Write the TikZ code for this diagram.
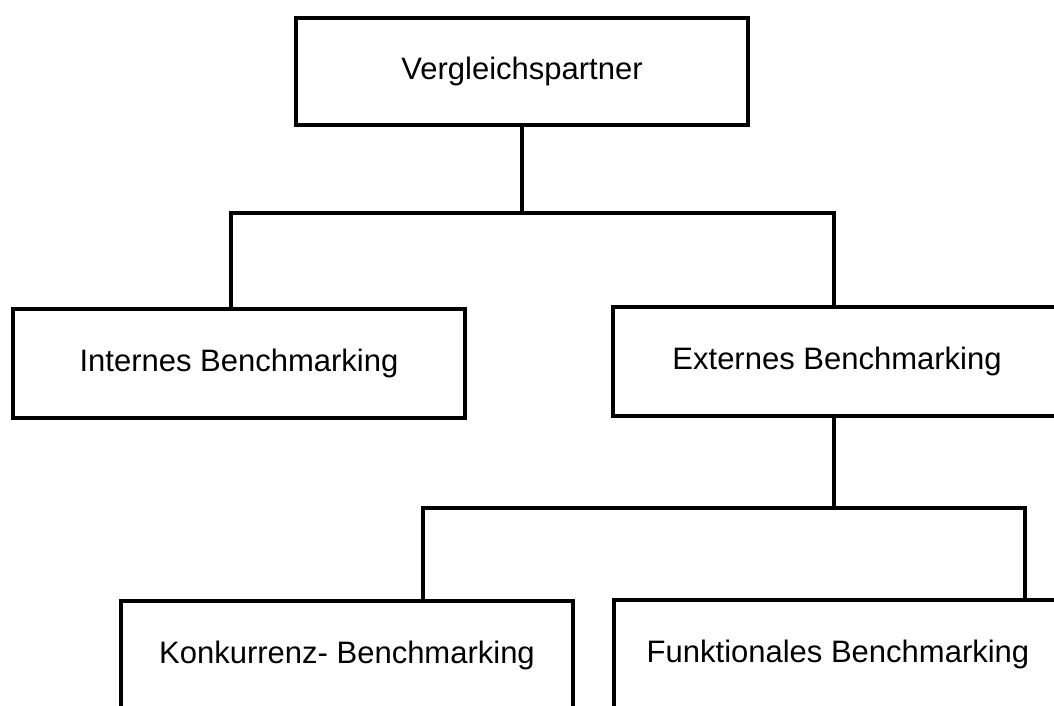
\documentclass[tikz,border=0pt]{standalone}
\usepackage{fontspec}
\setmainfont{Liberation Sans}
\begin{document}
\begin{tikzpicture}[x=1pt,y=-1pt,
  box/.style={draw=black,line width=4pt,rectangle,fill=white,inner sep=0pt,
    minimum width=452pt,minimum height=108pt,
    font=\fontsize{31}{37}\selectfont},
  conn/.style={draw=black,line width=4pt}]
\useasboundingbox (0,0) rectangle (1054,705);
\clip (0,0) rectangle (1054,705);
\fill[white] (0,0) rectangle (1054,705);
\node[box,minimum height=107pt] (V) at (522,71.5) {Vergleichspartner};
\node[box,minimum height=109pt] (I) at (239,363.5) {Internes Benchmarking};
\node[box,minimum height=109pt,minimum width=448pt] (E) at (837,361.5) {Externes Benchmarking};
\node[box] (K) at (347,655) {Konkurrenz- Benchmarking};
\node[box,minimum width=448pt] (F) at (838,654) {Funktionales Benchmarking};
\coordinate (b1l) at (231,213);
\coordinate (b1r) at (834,213);
\coordinate (b2l) at (423,508);
\coordinate (b2r) at (1025,508);
\coordinate (b2m) at (834,508);
\draw[conn] (V.south) -- (V.south |- b1l);
\draw[conn] (I.north -| b1l) -- (b1l) -- (b1r) -- (E.north -| b1r);
\draw[conn] (E.south -| b2m) -- (b2m);
\draw[conn] (K.north -| b2l) -- (b2l) -- (b2r) -- (F.north -| b2r);
\end{tikzpicture}
\end{document}
